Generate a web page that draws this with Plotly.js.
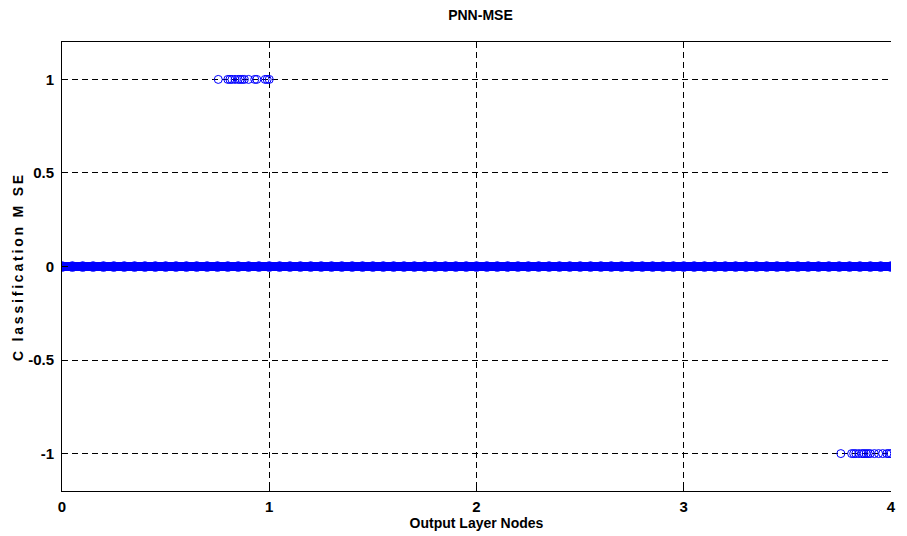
<!DOCTYPE html>
<html>
<head>
<meta charset="utf-8">
<script src="https://cdn.plot.ly/plotly-3.0.1.min.js"></script>
<style>html,body{margin:0;padding:0;background:#fff;}#chart{width:907px;height:536px;}
.ytitle{letter-spacing:2.8px;}</style>
</head>
<body>
<div id="chart"></div>
<script>
// Samples with error +1 (misclassified high)
var posX = [0.754, 0.80, 0.81, 0.82, 0.835, 0.85, 0.86, 0.87, 0.88, 0.90, 0.93, 0.94, 0.98, 0.99, 1.0];
var posY = [1, 1, 1, 1, 1, 1, 1, 1, 1, 1, 1, 1, 1, 1, 1];
// Samples with error -1
var negX = [3.758, 3.81, 3.82, 3.83, 3.845, 3.86, 3.87, 3.88, 3.89, 3.90, 3.92, 3.94, 3.96, 3.98, 3.99, 4.0];
var negY = [-1, -1, -1, -1, -1, -1, -1, -1, -1, -1, -1, -1, -1, -1, -1, -1];
// Correctly classified samples (error 0), densely covering 0..4
var zeroX = [0, 0.05, 0.1, 0.15, 0.2, 0.25, 0.3, 0.35, 0.4, 0.45, 0.5, 0.55, 0.6, 0.65, 0.7, 0.75, 0.8, 0.85, 0.9, 0.95,
  1, 1.05, 1.1, 1.15, 1.2, 1.25, 1.3, 1.35, 1.4, 1.45, 1.5, 1.55, 1.6, 1.65, 1.7, 1.75, 1.8, 1.85, 1.9, 1.95,
  2, 2.05, 2.1, 2.15, 2.2, 2.25, 2.3, 2.35, 2.4, 2.45, 2.5, 2.55, 2.6, 2.65, 2.7, 2.75, 2.8, 2.85, 2.9, 2.95,
  3, 3.05, 3.1, 3.15, 3.2, 3.25, 3.3, 3.35, 3.4, 3.45, 3.5, 3.55, 3.6, 3.65, 3.7, 3.75, 3.8, 3.85, 3.9, 3.95, 4];
var zeroY = zeroX.map(function(){ return 0; });
var xTicks = [0, 1, 2, 3, 4];
var xTickLabels = ['0', '1', '2', '3', '4'];
var yTicks = [-1, -0.5, 0, 0.5, 1];
var yTickLabels = ['-1', '-0.5', '0', '0.5', '1'];

var blue = '#0000ff';
var mk = {symbol: 'circle-open', size: 8, color: blue, line: {width: 1, color: blue}};
var traces = [
  {x: zeroX, y: zeroY, mode: 'lines+markers', line: {color: blue, width: 9}, marker: {symbol: 'circle-open', size: 9, color: blue, line: {width: 1.5, color: blue}}},
  {x: posX, y: posY, mode: 'markers', marker: mk},
  {x: negX, y: negY, mode: 'markers', marker: mk}
];
var fam = 'Liberation Sans, Arial, sans-serif';
var tickFont = {family: fam, size: 15, color: '#000', weight: 'bold'};
var layout = {
  width: 907, height: 536,
  margin: {l: 62, r: 16, t: 42, b: 45},
  paper_bgcolor: '#fff', plot_bgcolor: '#fff',
  showlegend: false,
  font: {family: fam, size: 14, color: '#000'},
  title: {text: '<b>PNN-MSE</b>', x: 0.5297, xanchor: 'center', y: 0.972, yanchor: 'middle', font: {size: 14, color: '#000'}},
  xaxis: {
    range: [0, 4], tickvals: xTicks, ticktext: xTickLabels,
    showline: true, linecolor: '#000', linewidth: 1, mirror: true,
    showgrid: true, gridcolor: '#000', gridwidth: 1, griddash: '6px,4px',
    ticks: 'inside', ticklen: 6, tickcolor: '#000', ticklabelstandoff: 2,
    zeroline: false, tickfont: tickFont,
    title: {text: '<b>Output Layer Nodes</b>', standoff: 3, font: {size: 14, color: '#000'}}
  },
  yaxis: {
    range: [-1.2, 1.2], tickvals: yTicks, ticktext: yTickLabels,
    showline: true, linecolor: '#000', linewidth: 1, mirror: false,
    showgrid: true, gridcolor: '#000', gridwidth: 1, griddash: '6px,4px',
    ticks: 'inside', ticklen: 6, tickcolor: '#000', ticklabelstandoff: 4,
    zeroline: false, tickfont: tickFont,
    title: {text: '<b>C lassification M SE</b>', standoff: 1, font: {size: 14, color: '#000'}}
  }
};
Plotly.newPlot('chart', traces, layout, {displayModeBar: false, staticPlot: true});
</script>
</body>
</html>
